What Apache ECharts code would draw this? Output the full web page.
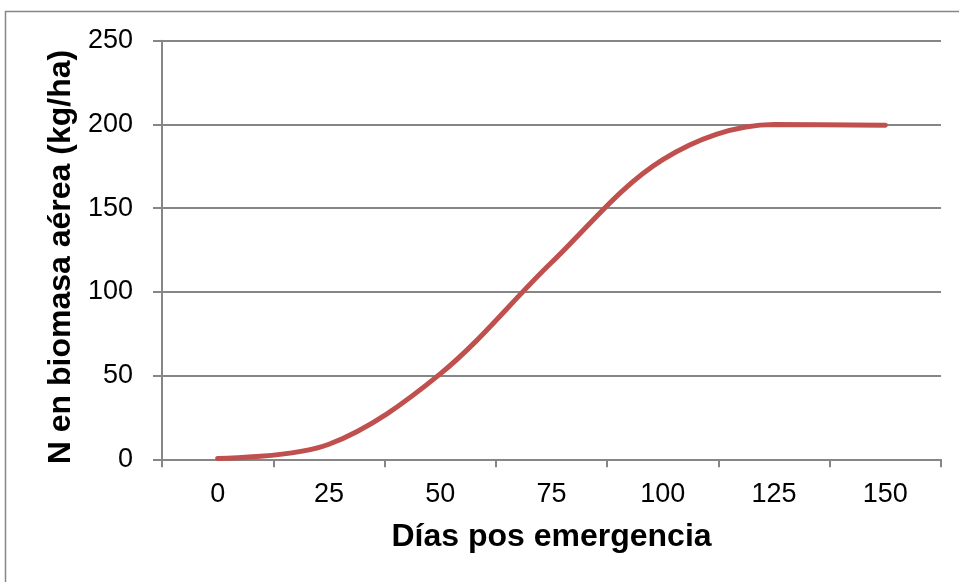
<!DOCTYPE html>
<html>
<head>
<meta charset="utf-8">
<script src="https://cdn.jsdelivr.net/npm/echarts@6/dist/echarts.min.js"></script>
<style>
  html, body { margin: 0; padding: 0; background: #ffffff; }
  #chart { width: 959px; height: 582px; }
</style>
</head>
<body>
<div id="chart"></div>
<script>
// Days after emergence (category axis)
const days = ['0', '25', '50', '75', '100', '125', '150'];
// Nitrogen accumulated in above-ground biomass, kg/ha
const nitrogen = [0.5, 9, 51, 117.5, 179, 200, 199.5];
// Value axis ticks
const yTicks = [0, 50, 100, 150, 200, 250];

const gray = '#868686';
const font = '"Liberation Sans", Arial, sans-serif';

const chart = echarts.init(document.getElementById('chart'), null, { renderer: 'canvas' });

chart.setOption({
  animation: false,
  backgroundColor: '#ffffff',
  graphic: [{
    type: 'rect',
    shape: { x: 5.5, y: 11.5, width: 1000, height: 1000 },
    style: { fill: 'none', stroke: gray, lineWidth: 1.5 },
    silent: true
  }],
  grid: { left: 162, right: 18, top: 40.7, bottom: 122.7, containLabel: false },
  xAxis: {
    type: 'category',
    data: days,
    boundaryGap: true,
    name: 'Días pos emergencia',
    nameLocation: 'middle',
    nameGap: 62,
    nameTextStyle: { fontFamily: font, fontSize: 32, fontWeight: 'bold', color: '#000' },
    axisLine: { show: true, lineStyle: { color: gray, width: 2 } },
    axisTick: { show: true, alignWithLabel: false, length: 8, lineStyle: { color: gray, width: 2 } },
    axisLabel: { fontFamily: font, fontSize: 27, color: '#000', margin: 22 },
    splitLine: { show: false }
  },
  yAxis: {
    type: 'value',
    min: yTicks[0],
    max: yTicks[yTicks.length - 1],
    interval: yTicks[1] - yTicks[0],
    name: 'N en biomasa aérea (kg/ha)',
    nameLocation: 'middle',
    nameGap: 82,
    nameTextStyle: { fontFamily: font, fontSize: 32, fontWeight: 'bold', color: '#000', padding: [0, 14, 0, 0] },
    axisLine: { show: true, lineStyle: { color: gray, width: 2 } },
    axisTick: { show: true, length: 9, lineStyle: { color: gray, width: 2 } },
    axisLabel: { fontFamily: font, fontSize: 27, color: '#000', margin: 29 },
    splitLine: { show: true, lineStyle: { color: gray, width: 2 } }
  },
  series: [{
    type: 'line',
    data: nitrogen,
    smooth: 0.34,
    showSymbol: false,
    lineStyle: { color: '#c0504d', width: 5, cap: 'round' },
    itemStyle: { color: '#c0504d' }
  }]
});
</script>
</body>
</html>
